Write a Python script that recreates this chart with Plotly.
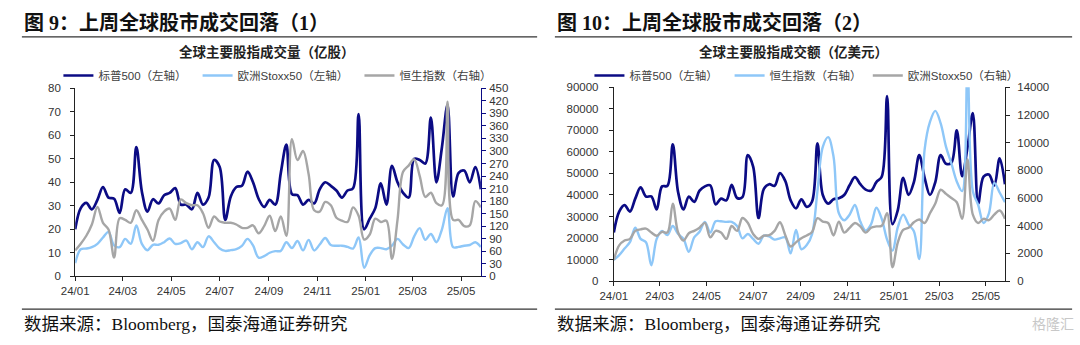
import pandas as pd
import plotly.graph_objects as go

W, H = 1080, 345

# Weekly observations (Fridays), Jan 2024 - May 2025
weeks = pd.date_range("2024-01-05", periods=74, freq="7D")

# ---- Figure 9: trading volume (100 million shares) ----
sp500_volume = [
    20, 29, 31.2, 28.5, 32.5, 38, 33.5, 33, 27, 37,
    35.5, 55, 36, 27.5, 32.8, 31, 34.5, 35.5, 37.5, 30.5,
    30.5, 28.5, 35.5, 30.5, 33.5, 49.5, 46.5, 24, 34, 38,
    38.5, 44.5, 40, 33, 29.5, 32.5, 30.5, 44, 56, 35,
    34.5, 30.5, 32.5, 31, 37, 40, 38.5, 36.5, 33.5, 36.5,
    37.5, 69, 20, 24.5, 29, 39.5, 30.5, 47, 40, 35.5,
    33.5, 50, 49.5, 48, 67.5, 40, 55, 73, 34, 44,
    45, 40, 46.5, 37,
]
stoxx50_volume = [
    5.6, 11.5, 11.8, 12.4, 13.8, 16.5, 18.9, 13.1, 12.4, 15.9,
    13.8, 21.6, 13.8, 11.1, 13.4, 13.4, 14.5, 16.1, 13.8, 14.1,
    15.2, 11.5, 14.5, 12.4, 17, 14.5, 11.8, 10.8, 11.1, 11.5,
    12.9, 15.9, 13.1, 7.9, 8.6, 10, 10.7, 10.8, 14.5, 12,
    15, 11, 15.5, 11, 13.5, 16.3, 13.3, 13, 13, 12.5,
    11.8, 16.5, 3.6, 9, 12, 12, 11.5, 13, 15.9, 13.5,
    12, 17, 20.5, 15.5, 18, 14.5, 20, 29, 12.4, 12.5,
    13, 13.3, 14.5, 12.4,
]
hsi_volume = [
    62, 78, 97, 124, 166, 128, 112, 45, 139, 135,
    128, 158, 135, 112, 85, 135, 155, 162, 135, 184,
    175, 170, 170, 151, 116, 143, 131, 128, 128, 124,
    116, 116, 122, 103, 120, 145, 108, 143, 97, 328,
    278, 300, 245, 158, 155, 178, 170, 140, 133, 130,
    165, 145, 88, 100, 138, 130, 133, 42, 135, 250,
    265, 280, 240, 190, 200, 175, 170, 418, 135, 135,
    120, 122, 180, 165,
]

# ---- Figure 10: turnover (100 million USD) ----
sp500_turnover = [
    22600, 32300, 35300, 32300, 38300, 43500, 39300, 39300, 33300, 44000,
    44250, 63500, 41300, 33300, 39300, 36800, 42000, 44000, 44500, 35600,
    38300, 37500, 44700, 38600, 39000, 58500, 53200, 29300, 42800, 45000,
    44250, 50200, 46500, 37500, 33800, 38000, 34500, 37000, 64000, 40000,
    36000, 38000, 38500, 40000, 44500, 48300, 45000, 42500, 42000, 46000,
    48500, 86000, 26500, 33000, 48000, 40000, 46000, 58500, 48000, 40000,
    46000, 58500, 54500, 55000, 70000, 48700, 62000, 78000, 36000, 48500,
    49500, 44500, 57000, 45000,
]
hsi_turnover = [
    1530, 1880, 2350, 2810, 3860, 3050, 2810, 1140, 3050, 3630,
    3320, 3980, 3400, 3050, 2120, 3160, 3560, 4280, 3510, 4320,
    4320, 4280, 4280, 3980, 3090, 3400, 3050, 2700, 3280, 3230,
    3000, 3090, 3160, 2000, 3700, 2300, 2600, 3400, 6500, 9700,
    10400, 9000, 4900, 4400, 4800, 5500, 4300, 3650, 4100, 5300,
    4500, 3000, 2200, 3900, 4800, 4100, 3600, 1600, 9500, 11500,
    12300, 11400, 9700, 8500, 7200, 6500, 15500, 6500, 5500, 4200,
    4900, 7100, 6400, 5700,
]
stoxx50_turnover = [
    1530, 2580, 2930, 3050, 3630, 3740, 3790, 3510, 3280, 3560,
    3510, 5600, 3510, 2930, 3460, 3630, 3860, 4210, 3160, 3630,
    3510, 3050, 3980, 3630, 4560, 4210, 3400, 3050, 3280, 3320,
    3630, 4250, 3320, 2500, 2800, 3100, 3300, 3550, 4550, 4300,
    4200, 3300, 4300, 3500, 3850, 4200, 3950, 3500, 3850, 3950,
    4000, 4900, 1000, 2800, 3700, 3850, 4250, 4450, 4200, 4900,
    5600, 6600, 6300, 6000, 5700, 4500, 8800, 4800, 4200, 4500,
    4400, 4800, 5100, 4500,
]

tick_dates = ["2024-01-05", "2024-03-05", "2024-05-05", "2024-07-05", "2024-09-05",
              "2024-11-05", "2025-01-05", "2025-03-05", "2025-05-05"]
tick_labels = ["24/01", "24/03", "24/05", "24/07", "24/09",
               "24/11", "25/01", "25/03", "25/05"]

NAVY = "#0B0B84"
SKY = "#8EC7F8"
GREY = "#A6A6A6"

LATIN_CJK = "Liberation Sans, Noto Sans CJK SC, sans-serif"
SERIF_CJK = "Liberation Serif, Noto Sans CJK SC, serif"


def px(x):
    return x / W


def py(y):
    return 1 - y / H


fig = go.Figure()

line_kw = dict(mode="lines", line_shape="spline")

# Figure 9 series
fig.add_trace(go.Scatter(x=weeks, y=sp500_volume, name="标普500（左轴）",
                         line=dict(color=NAVY, width=2.7), xaxis="x", yaxis="y",
                         legend="legend", **line_kw))
fig.add_trace(go.Scatter(x=weeks, y=stoxx50_volume, name="欧洲Stoxx50（左轴）",
                         line=dict(color=SKY, width=2.4), xaxis="x", yaxis="y",
                         legend="legend2", **line_kw))
fig.add_trace(go.Scatter(x=weeks, y=hsi_volume, name="恒生指数（右轴）",
                         line=dict(color=GREY, width=2.4), xaxis="x", yaxis="y2",
                         legend="legend3", **line_kw))

# Figure 10 series
fig.add_trace(go.Scatter(x=weeks, y=sp500_turnover, name="标普500（左轴）",
                         line=dict(color=NAVY, width=2.7), xaxis="x2", yaxis="y3",
                         legend="legend4", **line_kw))
fig.add_trace(go.Scatter(x=weeks, y=hsi_turnover, name="恒生指数（右轴）",
                         line=dict(color=SKY, width=2.4), xaxis="x2", yaxis="y4",
                         legend="legend5", **line_kw))
fig.add_trace(go.Scatter(x=weeks, y=stoxx50_turnover, name="欧洲Stoxx50（右轴）",
                         line=dict(color=GREY, width=2.4), xaxis="x2", yaxis="y4",
                         legend="legend6", **line_kw))

tick_font = dict(family="Liberation Sans, Arial, sans-serif", size=11.5, color="#333333")
x_range = ["2024-01-05", "2025-05-30"]


def xaxis_cfg(domain, anchor):
    return dict(domain=domain, anchor=anchor, type="date", range=x_range,
                tickmode="array", tickvals=tick_dates, ticktext=tick_labels,
                showgrid=False, zeroline=False, showline=True, linecolor="#222222",
                linewidth=1, ticks="outside", ticklen=4, tickcolor="#222222",
                tickfont=tick_font)


def yaxis_cfg(domain, anchor, rng, dtick, side="left", overlay=None,
              color="#222222", standoff=6):
    cfg = dict(domain=domain, anchor=anchor, range=rng, dtick=dtick, tick0=0,
               side=side, showgrid=False, zeroline=False, showline=True,
               linecolor=color, linewidth=1, ticks="outside", ticklen=4,
               tickcolor=color, tickfont=tick_font, ticklabelstandoff=standoff,
               tickformat="d")
    if overlay:
        cfg["overlaying"] = overlay
    return cfg


dom_x1 = [px(62), px(473)]
dom_y1 = [py(280), py(85.3)]
dom_x2 = [px(607.7), px(1004)]
dom_y2 = [py(285), py(84.3)]

fig.update_layout(
    width=W, height=H, autosize=False,
    margin=dict(l=0, r=0, t=0, b=0, pad=0),
    paper_bgcolor="white", plot_bgcolor="white",
    xaxis=xaxis_cfg(dom_x1, "y"),
    yaxis=yaxis_cfg(dom_y1, "x", [0, 80], 10, standoff=7),
    yaxis2=yaxis_cfg(dom_y1, "x", [0, 450], 30, side="right", overlay="y",
                     color=NAVY, standoff=1),
    xaxis2=xaxis_cfg(dom_x2, "y3"),
    yaxis3=yaxis_cfg(dom_y2, "x2", [0, 90000], 10000, standoff=8),
    yaxis4=yaxis_cfg(dom_y2, "x2", [0, 14000], 2000, side="right", overlay="y3",
                     standoff=5),
    showlegend=True,
)

# One legend per entry so each key sits where it belongs above its chart
legend_font = dict(family=LATIN_CJK, size=11.5, color="#404040")
legend_starts = {"legend": 50, "legend2": 191, "legend3": 355,
                 "legend4": 588, "legend5": 730, "legend6": 870}
for name, x0 in legend_starts.items():
    fig.update_layout({name: dict(x=px(x0 - 5), y=py(72), xanchor="left", yanchor="middle",
                                  orientation="h", bgcolor="rgba(0,0,0,0)",
                                  borderwidth=0, font=legend_font, itemwidth=30)})

annotations = [
    dict(text="<b>图 9：上周全球股市成交回落（1）</b>", x=px(8), y=py(17),
         xanchor="left", yanchor="middle", font=dict(family=SERIF_CJK, size=20, color="#111111")),
    dict(text="<b>图 10：上周全球股市成交回落（2）</b>", x=px(548), y=py(17),
         xanchor="left", yanchor="middle", font=dict(family=SERIF_CJK, size=20, color="#111111")),
    dict(text="<b>全球主要股指成交量（亿股）</b>", x=px(256), y=py(48),
         xanchor="center", yanchor="middle", font=dict(family=LATIN_CJK, size=13.5, color="#222222")),
    dict(text="<b>全球主要股指成交额（亿美元）</b>", x=px(790), y=py(48),
         xanchor="center", yanchor="middle", font=dict(family=LATIN_CJK, size=13.5, color="#222222")),
    dict(text="数据来源：Bloomberg，国泰海通证券研究", x=px(8), y=py(329),
         xanchor="left", yanchor="middle", font=dict(family=SERIF_CJK, size=17.5, color="#111111")),
    dict(text="数据来源：Bloomberg，国泰海通证券研究", x=px(548), y=py(329),
         xanchor="left", yanchor="middle", font=dict(family=SERIF_CJK, size=17.5, color="#111111")),
    dict(text="格隆汇", x=px(1076), y=py(329),
         xanchor="right", yanchor="middle", font=dict(family=LATIN_CJK, size=14, color="#C8C8C8")),
]
for a in annotations:
    a.update(xref="paper", yref="paper", showarrow=False)
fig.update_layout(annotations=annotations)

rule = dict(type="line", xref="paper", yref="paper", line=dict(color="#333333", width=1.3))
shapes = []
for x0, x1 in [(8, 530), (548, 1072)]:
    for y in (32, 314):
        s = dict(rule)
        s.update(x0=px(x0), x1=px(x1), y0=py(y), y1=py(y))
        shapes.append(s)
fig.update_layout(shapes=shapes)

fig.write_html("out.html")
